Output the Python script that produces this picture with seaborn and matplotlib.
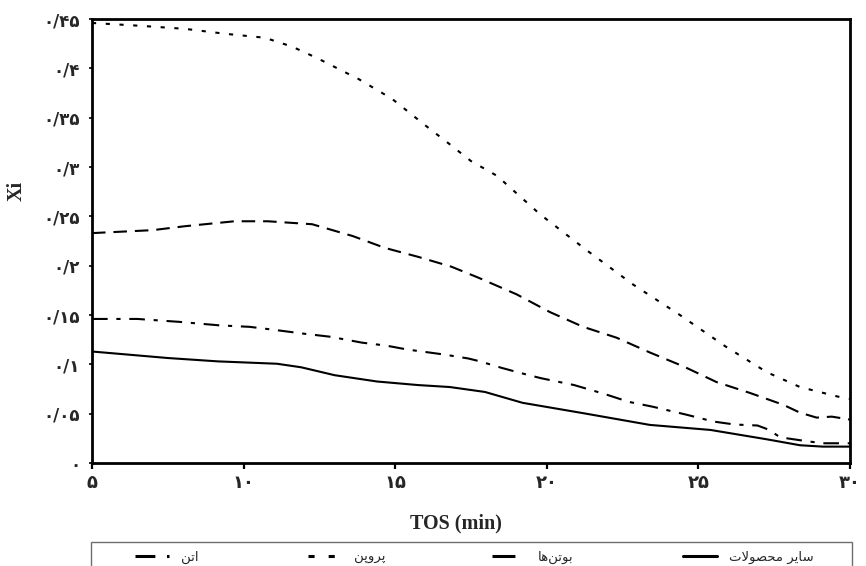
import matplotlib
matplotlib.use("Agg")
import matplotlib.pyplot as plt
from matplotlib.lines import Line2D
from matplotlib.patches import Rectangle
import seaborn as sns
import pandas as pd

# ---------------- data ----------------
series_names = ['اتن', 'پروپن', 'بوتن‌ها', 'سایر محصولات']

tos_ethene = [5, 7.0, 8.07, 9.7, 10.8, 12.26, 13.6, 14.66, 15.75, 16.85, 17.73, 19.0,
              20.1, 21.2, 22.3, 23.4, 24.5, 25.6, 26.7, 27.8, 28.35, 28.9, 29.4, 30]
xi_ethene = [0.233, 0.236, 0.240, 0.245, 0.245, 0.242, 0.230, 0.218, 0.209, 0.199, 0.188, 0.171,
             0.153, 0.138, 0.127, 0.112, 0.098, 0.082, 0.071, 0.059, 0.051, 0.046, 0.047, 0.044]

tos_propene = [5, 6.65, 8.07, 9.4, 10.7, 11.6, 12.45, 13.8, 14.9, 16.0, 16.8, 17.5,
               18.36, 19.78, 21.3, 22.84, 24.39, 25.9, 27.26, 28.35, 29.77, 30]
xi_propene = [0.446, 0.443, 0.440, 0.435, 0.431, 0.422, 0.410, 0.389, 0.369, 0.342, 0.323, 0.306,
              0.291, 0.252, 0.216, 0.181, 0.150, 0.118, 0.092, 0.077, 0.066, 0.065]

tos_butenes = [5, 6.5, 7.9, 9.2, 10.2, 11.0, 12.0, 12.85, 13.9, 14.7, 15.4, 16.6, 17.4, 17.8,
               18.5, 19.1, 19.8, 20.9, 21.9, 22.7, 23.5, 24.6, 25.5, 26.2, 26.95, 27.3, 27.7,
               28.6, 29.1, 30]
xi_butenes = [0.146, 0.146, 0.143, 0.1395, 0.138, 0.135, 0.131, 0.128, 0.122, 0.119, 0.115, 0.110,
              0.106, 0.103, 0.0965, 0.0915, 0.086, 0.079, 0.070, 0.062, 0.057, 0.049, 0.042,
              0.039, 0.038, 0.034, 0.026, 0.022, 0.020, 0.020]

tos_other = [5, 7.5, 9.15, 11.1, 11.9, 13.0, 14.4, 15.75, 16.8, 17.96, 19.2, 21.2, 23.4, 25.4,
             27.26, 28.35, 29.1, 30]
xi_other = [0.113, 0.1064, 0.103, 0.1006, 0.097, 0.089, 0.0826, 0.079, 0.077, 0.072, 0.061,
            0.0505, 0.0386, 0.0335, 0.024, 0.018, 0.0166, 0.0166]

x_ticks = [5, 10, 15, 20, 25, 30]
x_tick_labels = ['۵', '۱۰', '۱۵', '۲۰', '۲۵', '۳۰']
y_ticks = [0, 0.05, 0.1, 0.15, 0.2, 0.25, 0.3, 0.35, 0.4, 0.45]
y_tick_labels = ['۰', '۰/۰۵', '۰/۱', '۰/۱۵', '۰/۲', '۰/۲۵', '۰/۳', '۰/۳۵', '۰/۴', '۰/۴۵']

x_label = 'TOS (min)'
y_label = 'Xi'

# ------------- simple Persian shaping (matplotlib has no bidi/shaping) -------------
FORMS = {
    'ا': ('\uFE8D', '\uFE8E', None, None),
    'ب': ('\uFE8F', '\uFE90', '\uFE91', '\uFE92'),
    'پ': ('\uFB56', '\uFB57', '\uFB58', '\uFB59'),
    'ت': ('\uFE95', '\uFE96', '\uFE97', '\uFE98'),
    'ح': ('\uFEA1', '\uFEA2', '\uFEA3', '\uFEA4'),
    'ر': ('\uFEAD', '\uFEAE', None, None),
    'س': ('\uFEB1', '\uFEB2', '\uFEB3', '\uFEB4'),
    'ص': ('\uFEB9', '\uFEBA', '\uFEBB', '\uFEBC'),
    'ل': ('\uFEDD', '\uFEDE', '\uFEDF', '\uFEE0'),
    'م': ('\uFEE1', '\uFEE2', '\uFEE3', '\uFEE4'),
    'ن': ('\uFEE5', '\uFEE6', '\uFEE7', '\uFEE8'),
    'ه': ('\uFEE9', '\uFEEA', '\uFEEB', '\uFEEC'),
    'و': ('\uFEED', '\uFEEE', None, None),
    'ی': ('\uFBFC', '\uFBFD', '\uFBFE', '\uFBFF'),
}


def shape(s):
    chars = list(s)
    n = len(chars)

    def joins_next(c):
        return c in FORMS and FORMS[c][2] is not None

    res = []
    i = 0
    while i < n:
        c = chars[i]
        prev = chars[i - 1] if i > 0 else None
        if c not in FORMS:
            res.append('' if c == '\u200c' else c)
            i += 1
            continue
        jp = prev is not None and joins_next(prev)
        if c == 'ل' and i + 1 < n and chars[i + 1] == 'ا':
            res.append('\uFEFC' if jp else '\uFEFB')
            i += 2
            continue
        nxt = chars[i + 1] if i + 1 < n else None
        jn = joins_next(c) and nxt is not None and nxt in FORMS
        iso, fin, ini, med = FORMS[c]
        if jp and jn:
            g = med
        elif jp:
            g = fin
        elif jn:
            g = ini
        else:
            g = iso
        res.append(g)
        i += 1
    return ''.join(reversed(res))


# ---------------- plotting ----------------
sns.set_theme(style='white')
plt.rcParams['font.family'] = ['DejaVu Sans']

frames = []
for name, xs, ys in [(series_names[0], tos_ethene, xi_ethene),
                     (series_names[1], tos_propene, xi_propene),
                     (series_names[2], tos_butenes, xi_butenes),
                     (series_names[3], tos_other, xi_other)]:
    frames.append(pd.DataFrame({'TOS': xs, 'Xi': ys, 'product': name}))
df = pd.concat(frames, ignore_index=True)

dash_styles = {
    series_names[0]: (6.5, 3.8),
    series_names[1]: (2.0, 4.6),
    series_names[2]: (7.5, 4.2, 2.0, 4.2),
    series_names[3]: '',
}

fig = plt.figure(figsize=(8.66, 5.66), dpi=100)
ax = fig.add_axes([92 / 866, 1 - 463 / 566, 758 / 866, 444 / 566])

sns.lineplot(data=df, x='TOS', y='Xi', style='product', hue='product',
             palette={n: 'black' for n in series_names}, dashes=dash_styles,
             linewidth=1.5, sort=False, legend=False, ax=ax)

ax.set_xlim(5, 30)
ax.set_ylim(0, 0.45)
ax.set_xticks(x_ticks)
ax.set_xticklabels(x_tick_labels)
ax.set_yticks(y_ticks)
ax.set_yticklabels(y_tick_labels)

for sp in ax.spines.values():
    sp.set_color('black')
    sp.set_linewidth(2.0)
ax.tick_params(axis='x', direction='out', length=4, width=1.6, color='black', pad=4,
               labelsize=13, bottom=True)
ax.tick_params(axis='y', direction='out', length=2.5, width=1.2, color='black', pad=6,
               labelsize=12, left=True)
for lab in ax.get_xticklabels() + ax.get_yticklabels():
    lab.set_fontweight('bold')

ax.set_xlabel(x_label, fontsize=14.5, fontweight='bold', family='Liberation Serif')
ax.set_ylabel(y_label, fontsize=14.5, fontweight='bold', family='Liberation Serif')
ax.xaxis.set_label_coords(0.480, -0.113)
ax.yaxis.set_label_coords(-0.086, 0.613)

# legend frame (runs off the bottom edge as in the reference)
fig.add_artist(Rectangle((91 / 866, -0.06), 761 / 866, 0.06 + 24 / 566,
                         transform=fig.transFigure, fill=False,
                         edgecolor='#6e6e6e', linewidth=1.0))

starts = [135, 308, 492, 683]
for name, x0 in zip(series_names, starts):
    h = Line2D([], [], color='black', linewidth=2.2,
               linestyle='-' if dash_styles[name] == '' else (0, dash_styles[name]))
    fig.legend(handles=[h], labels=[shape(name)], loc='center left',
               bbox_to_anchor=(x0 / 866, 1 - 557 / 566), frameon=False,
               handlelength=2.6, handletextpad=0.9, borderpad=0, borderaxespad=0,
               prop={'family': 'DejaVu Sans', 'size': 9.5})

fig.savefig('out.png', dpi=100)
